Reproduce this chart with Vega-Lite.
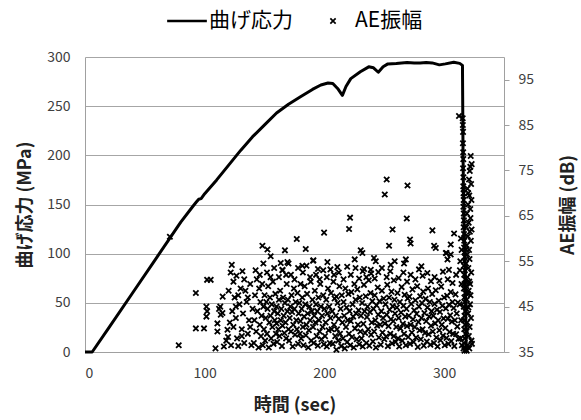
{
  "$schema": "https://vega.github.io/schema/vega-lite/v6.json",
  "width": 419,
  "height": 295,
  "autosize": "none",
  "padding": {"left": 85, "top": 57, "right": 77, "bottom": 68},
  "config": {
    "font": "Noto Sans CJK JP",
    "view": {"stroke": null},
    "axis": {
      "labelFontSize": 14,
      "labelColor": "#404040",
      "titleFontSize": 18,
      "titleFontWeight": "bold",
      "titleColor": "#222222",
      "domainColor": "#a0a0a0",
      "gridColor": "#a6a6a6",
      "tickColor": "#a0a0a0"
    }
  },
  "datasets": {
    "stress": [
      {"t": 0, "s": 0}, {"t": 6, "s": 0}, {"t": 20, "s": 24.7}, {"t": 40, "s": 60.5}, {"t": 60, "s": 96.3},
      {"t": 80, "s": 132}, {"t": 90, "s": 148}, {"t": 93, "s": 152.5}, {"t": 95, "s": 155.3}, {"t": 97, "s": 156},
      {"t": 100, "s": 161}, {"t": 110, "s": 175}, {"t": 120, "s": 190}, {"t": 130, "s": 205}, {"t": 140, "s": 219},
      {"t": 150, "s": 231}, {"t": 160, "s": 243}, {"t": 170, "s": 252}, {"t": 180, "s": 259.5}, {"t": 190, "s": 267},
      {"t": 197, "s": 271.5}, {"t": 203, "s": 273.5}, {"t": 207, "s": 273}, {"t": 211, "s": 268}, {"t": 215, "s": 261},
      {"t": 218, "s": 270}, {"t": 222, "s": 278}, {"t": 230, "s": 285}, {"t": 237, "s": 290}, {"t": 241, "s": 289},
      {"t": 245, "s": 284.5}, {"t": 249, "s": 290}, {"t": 253, "s": 293}, {"t": 260, "s": 293.5}, {"t": 269, "s": 294.5},
      {"t": 275, "s": 294}, {"t": 280, "s": 294}, {"t": 285, "s": 294.5}, {"t": 290, "s": 294}, {"t": 296, "s": 292},
      {"t": 301, "s": 293}, {"t": 308, "s": 294.7}, {"t": 313, "s": 293.5}, {"t": 315.3, "s": 291.5}, {"t": 315.8, "s": 200},
      {"t": 316.5, "s": 130}, {"t": 317.5, "s": 90}, {"t": 318, "s": 40}, {"t": 318.5, "s": 0}
    ],
    "ae": [
      {"t": 70.9, "a": 60.4}, {"t": 78.3, "a": 36.5}, {"t": 92.6, "a": 48}, {"t": 92.6, "a": 40.2}, {"t": 99.4, "a": 40.2},
      {"t": 102, "a": 50.9}, {"t": 105, "a": 50.9}, {"t": 109, "a": 35.8}, {"t": 101.4, "a": 45}, {"t": 101.4, "a": 42.8},
      {"t": 102, "a": 44}, {"t": 110.6, "a": 39.5}, {"t": 110.6, "a": 41.3}, {"t": 115, "a": 47.2}, {"t": 113, "a": 45},
      {"t": 114.8, "a": 43.6}, {"t": 112, "a": 44.5}, {"t": 113.4, "a": 43.2},
      {"t": 116, "a": 36.2}, {"t": 118, "a": 37.5}, {"t": 119, "a": 39.9}, {"t": 119.5, "a": 38.3}, {"t": 121, "a": 41.5},
      {"t": 122, "a": 36.5}, {"t": 123, "a": 44}, {"t": 124, "a": 40.5}, {"t": 125, "a": 47}, {"t": 126, "a": 42.5},
      {"t": 127, "a": 38}, {"t": 128, "a": 36.3}, {"t": 129, "a": 45.5}, {"t": 130, "a": 49}, {"t": 131, "a": 40},
      {"t": 132, "a": 43.5}, {"t": 133, "a": 37}, {"t": 134, "a": 48.5}, {"t": 135, "a": 46}, {"t": 136, "a": 39},
      {"t": 137, "a": 42}, {"t": 138, "a": 50}, {"t": 139, "a": 36.5}, {"t": 140, "a": 44.5}, {"t": 120, "a": 48.5},
      {"t": 124, "a": 50.5}, {"t": 128, "a": 47.5}, {"t": 133, "a": 51}, {"t": 136, "a": 47}, {"t": 138, "a": 40.5},
      {"t": 126, "a": 45}, {"t": 131, "a": 38.5},
      {"t": 141, "a": 37}, {"t": 141.5, "a": 42}, {"t": 142, "a": 47.5}, {"t": 143, "a": 39.5}, {"t": 143.5, "a": 51},
      {"t": 144, "a": 44}, {"t": 145, "a": 36}, {"t": 145.5, "a": 49}, {"t": 146, "a": 41}, {"t": 146.5, "a": 46},
      {"t": 147, "a": 38.5}, {"t": 147.5, "a": 43}, {"t": 148, "a": 50}, {"t": 148.5, "a": 36.5}, {"t": 149, "a": 45},
      {"t": 149.5, "a": 40}, {"t": 150, "a": 47.5}, {"t": 142.5, "a": 53}, {"t": 146, "a": 52}, {"t": 149, "a": 54.5},
      {"t": 150.5, "a": 37.5}, {"t": 151, "a": 42.5}, {"t": 151.5, "a": 46}, {"t": 152, "a": 39}, {"t": 152.5, "a": 44.5},
      {"t": 153, "a": 49.5}, {"t": 153.5, "a": 36}, {"t": 154, "a": 41.5}, {"t": 154.5, "a": 47}, {"t": 155, "a": 43},
      {"t": 155.5, "a": 38}, {"t": 156, "a": 45.5}, {"t": 156.5, "a": 40.5}, {"t": 157, "a": 50.5}, {"t": 157.5, "a": 36.8},
      {"t": 158, "a": 44}, {"t": 158.5, "a": 42}, {"t": 159, "a": 47.8}, {"t": 159.5, "a": 39}, {"t": 160, "a": 45},
      {"t": 152, "a": 52.5}, {"t": 155, "a": 51.5}, {"t": 158, "a": 53.5}, {"t": 160, "a": 41.3},
      {"t": 160.5, "a": 37.2}, {"t": 161, "a": 43.5}, {"t": 161.5, "a": 40}, {"t": 162, "a": 46.5}, {"t": 162.5, "a": 38.5},
      {"t": 163, "a": 48.5}, {"t": 163.5, "a": 42}, {"t": 164, "a": 44.5}, {"t": 164.5, "a": 36.3}, {"t": 165, "a": 40.8},
      {"t": 165.5, "a": 47}, {"t": 166, "a": 43}, {"t": 166.5, "a": 39.2}, {"t": 167, "a": 45.8}, {"t": 167.5, "a": 41.5},
      {"t": 168, "a": 38}, {"t": 168.5, "a": 50}, {"t": 169, "a": 44}, {"t": 169.5, "a": 46.5}, {"t": 170, "a": 40},
      {"t": 162, "a": 51.5}, {"t": 165, "a": 53}, {"t": 168, "a": 52}, {"t": 170, "a": 54.5},
      {"t": 170.5, "a": 37.5}, {"t": 171, "a": 42.5}, {"t": 171.5, "a": 45}, {"t": 172, "a": 39.5}, {"t": 172.5, "a": 47.5},
      {"t": 173, "a": 43.8}, {"t": 173.5, "a": 36.2}, {"t": 174, "a": 41}, {"t": 174.5, "a": 49}, {"t": 175, "a": 44.5},
      {"t": 175.5, "a": 38.8}, {"t": 176, "a": 46}, {"t": 176.5, "a": 42}, {"t": 177, "a": 40}, {"t": 177.5, "a": 48},
      {"t": 178, "a": 36.8}, {"t": 178.5, "a": 43.5}, {"t": 179, "a": 45.8}, {"t": 179.5, "a": 39}, {"t": 180, "a": 41.8},
      {"t": 172, "a": 52}, {"t": 175, "a": 51}, {"t": 178, "a": 53.5}, {"t": 180, "a": 50},
      {"t": 180.5, "a": 38}, {"t": 181, "a": 44.5}, {"t": 181.5, "a": 47}, {"t": 182, "a": 40.5}, {"t": 182.5, "a": 36.5},
      {"t": 183, "a": 42.8}, {"t": 183.5, "a": 49.5}, {"t": 184, "a": 45.5}, {"t": 184.5, "a": 38.7}, {"t": 185, "a": 41},
      {"t": 185.5, "a": 47.8}, {"t": 186, "a": 43.5}, {"t": 186.5, "a": 36}, {"t": 187, "a": 39.8}, {"t": 187.5, "a": 45},
      {"t": 188, "a": 42}, {"t": 188.5, "a": 50.5}, {"t": 189, "a": 37.5}, {"t": 189.5, "a": 44}, {"t": 190, "a": 46.5},
      {"t": 182, "a": 52.5}, {"t": 185, "a": 54}, {"t": 188, "a": 51.5},
      {"t": 190.5, "a": 40.5}, {"t": 191, "a": 37}, {"t": 191.5, "a": 43}, {"t": 192, "a": 48.5}, {"t": 192.5, "a": 41.5},
      {"t": 193, "a": 45.5}, {"t": 193.5, "a": 38.5}, {"t": 194, "a": 44}, {"t": 194.5, "a": 36.4}, {"t": 195, "a": 47},
      {"t": 195.5, "a": 42}, {"t": 196, "a": 39.5}, {"t": 196.5, "a": 50}, {"t": 197, "a": 45}, {"t": 197.5, "a": 37.8},
      {"t": 198, "a": 43}, {"t": 198.5, "a": 40.5}, {"t": 199, "a": 47.5}, {"t": 199.5, "a": 36.7}, {"t": 200, "a": 44.5},
      {"t": 193, "a": 52}, {"t": 196, "a": 51}, {"t": 199, "a": 53},
      {"t": 200.5, "a": 38.5}, {"t": 201, "a": 41.5}, {"t": 201.5, "a": 46.5}, {"t": 202, "a": 36.2}, {"t": 202.5, "a": 43.5},
      {"t": 203, "a": 49}, {"t": 203.5, "a": 39.8}, {"t": 204, "a": 45}, {"t": 204.5, "a": 37}, {"t": 205, "a": 42.5},
      {"t": 205.5, "a": 48}, {"t": 206, "a": 40}, {"t": 206.5, "a": 44}, {"t": 207, "a": 36.8}, {"t": 207.5, "a": 50.5},
      {"t": 208, "a": 41}, {"t": 208.5, "a": 46.8}, {"t": 209, "a": 38.5}, {"t": 209.5, "a": 43}, {"t": 210, "a": 47.2},
      {"t": 202, "a": 51.5}, {"t": 205, "a": 53.2}, {"t": 208, "a": 52}, {"t": 210, "a": 35.5},
      {"t": 210.5, "a": 40}, {"t": 211, "a": 45.8}, {"t": 211.5, "a": 37.5}, {"t": 212, "a": 42.3}, {"t": 212.5, "a": 49.5},
      {"t": 213, "a": 39}, {"t": 213.5, "a": 44.5}, {"t": 214, "a": 36.3}, {"t": 214.5, "a": 47.5}, {"t": 215, "a": 41.5},
      {"t": 215.5, "a": 38}, {"t": 216, "a": 46}, {"t": 216.5, "a": 43}, {"t": 217, "a": 35.8}, {"t": 217.5, "a": 49},
      {"t": 218, "a": 40.5}, {"t": 218.5, "a": 44.8}, {"t": 219, "a": 37.2}, {"t": 219.5, "a": 42}, {"t": 220, "a": 47.8},
      {"t": 212, "a": 52.5}, {"t": 216, "a": 51}, {"t": 219, "a": 53.8},
      {"t": 220.5, "a": 39}, {"t": 221, "a": 44}, {"t": 221.5, "a": 36.5}, {"t": 222, "a": 41.8}, {"t": 222.5, "a": 48.2},
      {"t": 223, "a": 38.3}, {"t": 223.5, "a": 45.5}, {"t": 224, "a": 42.8}, {"t": 224.5, "a": 36}, {"t": 225, "a": 50},
      {"t": 225.5, "a": 40.2}, {"t": 226, "a": 46.5}, {"t": 226.5, "a": 43.5}, {"t": 227, "a": 37.8}, {"t": 227.5, "a": 48.8},
      {"t": 228, "a": 41}, {"t": 228.5, "a": 44.2}, {"t": 229, "a": 36.7}, {"t": 229.5, "a": 47}, {"t": 230, "a": 39.5},
      {"t": 222, "a": 52}, {"t": 226, "a": 53.5}, {"t": 229, "a": 51.2},
      {"t": 230.5, "a": 43}, {"t": 231, "a": 38}, {"t": 231.5, "a": 45.8}, {"t": 232, "a": 36.2}, {"t": 232.5, "a": 41.2},
      {"t": 233, "a": 49.8}, {"t": 233.5, "a": 44}, {"t": 234, "a": 39.2}, {"t": 234.5, "a": 47.3}, {"t": 235, "a": 37},
      {"t": 235.5, "a": 42.7}, {"t": 236, "a": 45}, {"t": 236.5, "a": 40}, {"t": 237, "a": 50.8}, {"t": 237.5, "a": 36.4},
      {"t": 238, "a": 43.8}, {"t": 238.5, "a": 48}, {"t": 239, "a": 38.8}, {"t": 239.5, "a": 41.5}, {"t": 240, "a": 46.2},
      {"t": 232, "a": 52.8}, {"t": 235, "a": 51.5}, {"t": 239, "a": 52.3},
      {"t": 240.5, "a": 37.3}, {"t": 241, "a": 44.5}, {"t": 241.5, "a": 39.5}, {"t": 242, "a": 47.5}, {"t": 242.5, "a": 42},
      {"t": 243, "a": 36}, {"t": 243.5, "a": 45.3}, {"t": 244, "a": 40.8}, {"t": 244.5, "a": 49.2}, {"t": 245, "a": 43.2},
      {"t": 245.5, "a": 38.2}, {"t": 246, "a": 46.2}, {"t": 246.5, "a": 41}, {"t": 247, "a": 36.6}, {"t": 247.5, "a": 44},
      {"t": 248, "a": 48.5}, {"t": 248.5, "a": 39.3}, {"t": 249, "a": 42.5}, {"t": 249.5, "a": 46.8}, {"t": 250, "a": 37.8},
      {"t": 242, "a": 51.2}, {"t": 245, "a": 52.6}, {"t": 248, "a": 53.5},
      {"t": 250.5, "a": 41.3}, {"t": 251, "a": 45.5}, {"t": 251.5, "a": 38.4}, {"t": 252, "a": 43.2}, {"t": 252.5, "a": 49.8},
      {"t": 253, "a": 36.3}, {"t": 253.5, "a": 40.7}, {"t": 254, "a": 47}, {"t": 254.5, "a": 44.3}, {"t": 255, "a": 39},
      {"t": 255.5, "a": 42.2}, {"t": 256, "a": 48.3}, {"t": 256.5, "a": 36.9}, {"t": 257, "a": 45.1}, {"t": 257.5, "a": 41.8},
      {"t": 258, "a": 38.5}, {"t": 258.5, "a": 46.5}, {"t": 259, "a": 43.5}, {"t": 259.5, "a": 37.2}, {"t": 260, "a": 40.5},
      {"t": 252, "a": 51.5}, {"t": 255, "a": 52.8}, {"t": 258, "a": 50.8},
      {"t": 260.5, "a": 44.8}, {"t": 261, "a": 48}, {"t": 261.5, "a": 38}, {"t": 262, "a": 42.5}, {"t": 262.5, "a": 36.2},
      {"t": 263, "a": 46}, {"t": 263.5, "a": 40.2}, {"t": 264, "a": 43.7}, {"t": 264.5, "a": 49.3}, {"t": 265, "a": 37.5},
      {"t": 265.5, "a": 41.2}, {"t": 266, "a": 45.2}, {"t": 266.5, "a": 39}, {"t": 267, "a": 47.6}, {"t": 267.5, "a": 42.8},
      {"t": 268, "a": 36.5}, {"t": 268.5, "a": 44.5}, {"t": 269, "a": 40.7}, {"t": 269.5, "a": 46.8}, {"t": 270, "a": 38.3},
      {"t": 262, "a": 51.3}, {"t": 266, "a": 52.5}, {"t": 269, "a": 50.5},
      {"t": 270.5, "a": 43}, {"t": 271, "a": 47.2}, {"t": 271.5, "a": 36.8}, {"t": 272, "a": 41}, {"t": 272.5, "a": 45.6},
      {"t": 273, "a": 39.3}, {"t": 273.5, "a": 48.8}, {"t": 274, "a": 42.2}, {"t": 274.5, "a": 37.2}, {"t": 275, "a": 44.2},
      {"t": 275.5, "a": 40.5}, {"t": 276, "a": 46.4}, {"t": 276.5, "a": 38.2}, {"t": 277, "a": 43.4}, {"t": 277.5, "a": 49.5},
      {"t": 278, "a": 36.1}, {"t": 278.5, "a": 41.6}, {"t": 279, "a": 45}, {"t": 279.5, "a": 39.8}, {"t": 280, "a": 47.3},
      {"t": 272, "a": 52}, {"t": 276, "a": 51}, {"t": 279, "a": 53.2},
      {"t": 280.5, "a": 37.8}, {"t": 281, "a": 42.5}, {"t": 281.5, "a": 45.8}, {"t": 282, "a": 40}, {"t": 282.5, "a": 48.3},
      {"t": 283, "a": 36.4}, {"t": 283.5, "a": 43.6}, {"t": 284, "a": 39.2}, {"t": 284.5, "a": 46.7}, {"t": 285, "a": 41.8},
      {"t": 285.5, "a": 37.3}, {"t": 286, "a": 44.8}, {"t": 286.5, "a": 49}, {"t": 287, "a": 38.9}, {"t": 287.5, "a": 42.8},
      {"t": 288, "a": 46}, {"t": 288.5, "a": 36.6}, {"t": 289, "a": 40.8}, {"t": 289.5, "a": 44}, {"t": 290, "a": 47.8},
      {"t": 282, "a": 51.8}, {"t": 286, "a": 52.4}, {"t": 289, "a": 50.6},
      {"t": 290.5, "a": 39.5}, {"t": 291, "a": 43}, {"t": 291.5, "a": 37}, {"t": 292, "a": 45.6}, {"t": 292.5, "a": 41.3},
      {"t": 293, "a": 48.6}, {"t": 293.5, "a": 38.2}, {"t": 294, "a": 44.3}, {"t": 294.5, "a": 36.2}, {"t": 295, "a": 42},
      {"t": 295.5, "a": 46.3}, {"t": 296, "a": 39.8}, {"t": 296.5, "a": 43.8}, {"t": 297, "a": 37.6}, {"t": 297.5, "a": 49.4},
      {"t": 298, "a": 41}, {"t": 298.5, "a": 45.2}, {"t": 299, "a": 38.6}, {"t": 299.5, "a": 42.4}, {"t": 300, "a": 47},
      {"t": 292, "a": 51.5}, {"t": 296, "a": 50.7}, {"t": 299, "a": 52.7},
      {"t": 300.5, "a": 36.5}, {"t": 301, "a": 40.3}, {"t": 301.5, "a": 44.6}, {"t": 302, "a": 38.1}, {"t": 302.5, "a": 47.4},
      {"t": 303, "a": 42.3}, {"t": 303.5, "a": 36.8}, {"t": 304, "a": 45.4}, {"t": 304.5, "a": 39.4}, {"t": 305, "a": 43.1},
      {"t": 305.5, "a": 48.2}, {"t": 306, "a": 37.4}, {"t": 306.5, "a": 41.7}, {"t": 307, "a": 46}, {"t": 307.5, "a": 39},
      {"t": 308, "a": 44.7}, {"t": 308.5, "a": 36.3}, {"t": 309, "a": 42}, {"t": 309.5, "a": 47.7}, {"t": 310, "a": 38.9},
      {"t": 310.5, "a": 43.5}, {"t": 311, "a": 40.6}, {"t": 311.5, "a": 45.9}, {"t": 312, "a": 37.9}, {"t": 303, "a": 51},
      {"t": 307, "a": 50.2}, {"t": 310, "a": 52},
      {"t": 148.2, "a": 58.4}, {"t": 152.4, "a": 57.6}, {"t": 155.1, "a": 56.1}, {"t": 167, "a": 57.4}, {"t": 176.9, "a": 59.9},
      {"t": 184.4, "a": 57.7}, {"t": 190.5, "a": 55.1}, {"t": 122.6, "a": 54.2}, {"t": 121.7, "a": 52.5}, {"t": 126.5, "a": 51.8},
      {"t": 131.5, "a": 52.8}, {"t": 163.5, "a": 54.6}, {"t": 169.1, "a": 54.8}, {"t": 181.6, "a": 54}, {"t": 164.9, "a": 53.1},
      {"t": 252, "a": 73}, {"t": 250.4, "a": 69.7}, {"t": 269.4, "a": 71.7}, {"t": 221.4, "a": 64.6}, {"t": 268.8, "a": 64.4},
      {"t": 199.7, "a": 61.3}, {"t": 220.6, "a": 62.1}, {"t": 256.9, "a": 62}, {"t": 290.2, "a": 61.8}, {"t": 308.3, "a": 61.1},
      {"t": 254, "a": 58.4}, {"t": 271.5, "a": 59.8}, {"t": 272, "a": 58.9}, {"t": 291.6, "a": 58.4}, {"t": 293, "a": 57.9},
      {"t": 230.3, "a": 57.4}, {"t": 231.7, "a": 56.8}, {"t": 302, "a": 56.8}, {"t": 305.5, "a": 56.5}, {"t": 302.8, "a": 55.4},
      {"t": 225.3, "a": 55.4}, {"t": 241.4, "a": 55.7}, {"t": 242.9, "a": 55}, {"t": 202.5, "a": 54.8}, {"t": 190.8, "a": 55.2},
      {"t": 194.6, "a": 53.3}, {"t": 210.8, "a": 53.7}, {"t": 233.1, "a": 53.3}, {"t": 238.7, "a": 53.1}, {"t": 255.4, "a": 54.2},
      {"t": 258.7, "a": 55}, {"t": 266.5, "a": 54.5}, {"t": 268, "a": 55.4}, {"t": 281, "a": 53.9}, {"t": 304, "a": 53.1},
      {"t": 301.4, "a": 56.8}, {"t": 305.5, "a": 58.7},
      {"t": 312.4, "a": 87}, {"t": 315.5, "a": 86.5}, {"t": 315.6, "a": 85}, {"t": 315.8, "a": 83.5}, {"t": 315.7, "a": 81},
      {"t": 315.9, "a": 79}, {"t": 316, "a": 77.5}, {"t": 315.8, "a": 75.5}, {"t": 316.1, "a": 73.5}, {"t": 316, "a": 71.5},
      {"t": 316.2, "a": 70}, {"t": 316.3, "a": 68.5}, {"t": 316.1, "a": 67}, {"t": 316.4, "a": 65.5}, {"t": 316.5, "a": 64},
      {"t": 316.3, "a": 62.5}, {"t": 316.6, "a": 61}, {"t": 316.8, "a": 59.5}, {"t": 316.7, "a": 58}, {"t": 317, "a": 57},
      {"t": 317.2, "a": 56}, {"t": 317, "a": 55}, {"t": 316.5, "a": 54}, {"t": 317.3, "a": 53}, {"t": 316.8, "a": 52},
      {"t": 317.5, "a": 51}, {"t": 317, "a": 50}, {"t": 316.5, "a": 49}, {"t": 317.6, "a": 48}, {"t": 316.9, "a": 47},
      {"t": 317.2, "a": 46}, {"t": 316.4, "a": 45}, {"t": 317.8, "a": 44}, {"t": 317, "a": 43}, {"t": 316.6, "a": 42},
      {"t": 317.4, "a": 41}, {"t": 316.8, "a": 40}, {"t": 317.9, "a": 39}, {"t": 317.1, "a": 38}, {"t": 316.5, "a": 37},
      {"t": 317.7, "a": 36}, {"t": 317, "a": 35.3}, {"t": 316.2, "a": 35.8}, {"t": 318.2, "a": 35.5},
      {"t": 322.2, "a": 78.2}, {"t": 323, "a": 76.4}, {"t": 321.4, "a": 74.9}, {"t": 320.8, "a": 73}, {"t": 322.5, "a": 72},
      {"t": 319.5, "a": 71}, {"t": 321, "a": 69.5}, {"t": 322.8, "a": 68.5}, {"t": 320, "a": 67.5}, {"t": 321.8, "a": 66.5},
      {"t": 319, "a": 65.5}, {"t": 322, "a": 64.5}, {"t": 320.5, "a": 63.5}, {"t": 318.5, "a": 62.5}, {"t": 321.5, "a": 61.5},
      {"t": 319.8, "a": 60.5}, {"t": 322.3, "a": 59.5}, {"t": 318.8, "a": 58.5}, {"t": 320.8, "a": 57.5}, {"t": 319.2, "a": 56.5},
      {"t": 321.2, "a": 55.5}, {"t": 318.3, "a": 54.5}, {"t": 320.2, "a": 53.5}, {"t": 322.6, "a": 52.5}, {"t": 319.5, "a": 51.5},
      {"t": 321, "a": 50.5}, {"t": 318.6, "a": 49.5}, {"t": 320.5, "a": 48.5}, {"t": 322, "a": 47.5}, {"t": 319, "a": 46.5},
      {"t": 321.6, "a": 45.5}, {"t": 318.4, "a": 44.5}, {"t": 320, "a": 43.5}, {"t": 322.4, "a": 42.5}, {"t": 319.3, "a": 41.5},
      {"t": 321.3, "a": 40.5}, {"t": 318.7, "a": 39.5}, {"t": 320.6, "a": 38.5}, {"t": 322.8, "a": 37.5}, {"t": 319.6, "a": 36.5},
      {"t": 321, "a": 35.8}, {"t": 318.9, "a": 35.3}, {"t": 323.2, "a": 36.8}, {"t": 320.3, "a": 44.8}, {"t": 319.9, "a": 47.8},
      {"t": 321.7, "a": 50}, {"t": 318.1, "a": 57.6}, {"t": 322.9, "a": 62}, {"t": 320.1, "a": 70}, {"t": 321.9, "a": 75.8},
      {"t": 314, "a": 60}, {"t": 313.5, "a": 55}, {"t": 314.5, "a": 50}, {"t": 313, "a": 45.5}, {"t": 314.2, "a": 42},
      {"t": 313.8, "a": 38}, {"t": 314.8, "a": 36.5}, {"t": 313.2, "a": 53}, {"t": 314.6, "a": 57.5}
    ]
  },
  "layer": [
    {
      "data": {"name": "stress"},
      "mark": {"type": "line", "color": "black", "strokeWidth": 3, "strokeJoin": "round"},
      "encoding": {
        "x": {
          "field": "t", "type": "quantitative",
          "scale": {"domain": [0, 350], "nice": false, "zero": false},
          "axis": {"values": [0, 100, 200, 300], "title": "時間 (sec)", "grid": false, "ticks": false, "labelPadding": 14, "titlePadding": 16}
        },
        "y": {
          "field": "s", "type": "quantitative",
          "scale": {"domain": [0, 300], "nice": false},
          "axis": {"values": [0, 50, 100, 150, 200, 250, 300], "title": "曲げ応力 (MPa)", "grid": true, "ticks": false, "labelPadding": 15, "titlePadding": 12}
        }
      }
    },
    {
      "data": {"name": "ae"},
      "mark": {"type": "point", "filled": false, "size": 1444, "strokeWidth": 1.8, "color": "black", "opacity": 1},
      "encoding": {
        "x": {"field": "t", "type": "quantitative"},
        "y": {
          "field": "a", "type": "quantitative",
          "scale": {"domain": [35, 100], "nice": false, "zero": false},
          "axis": {"orient": "right", "values": [35, 45, 55, 65, 75, 85, 95], "title": "AE振幅 (dB)", "titleAngle": 270, "grid": false, "ticks": true, "tickSize": 5, "labelPadding": 9, "titlePadding": 44}
        },
        "shape": {
          "datum": "AE振幅", "type": "nominal",
          "scale": {"domain": ["曲げ応力", "AE振幅"], "range": ["M-1,-0.025L1,-0.025L1,0.025L-1,0.025Z", "M-0.14,-0.14L0.14,0.14M0.14,-0.14L-0.14,0.14"]},
          "legend": {
            "orient": "none", "legendX": 82, "legendY": -56, "direction": "horizontal", "title": null,
            "symbolSize": 1444, "symbolStrokeColor": "black", "symbolFillColor": "black", "symbolStrokeWidth": 1.7, "symbolOpacity": 1,
            "labelFontSize": 21, "labelColor": "black", "labelOffset": 2, "columnPadding": 20
          }
        }
      }
    }
  ],
  "resolve": {"scale": {"y": "independent"}}
}
